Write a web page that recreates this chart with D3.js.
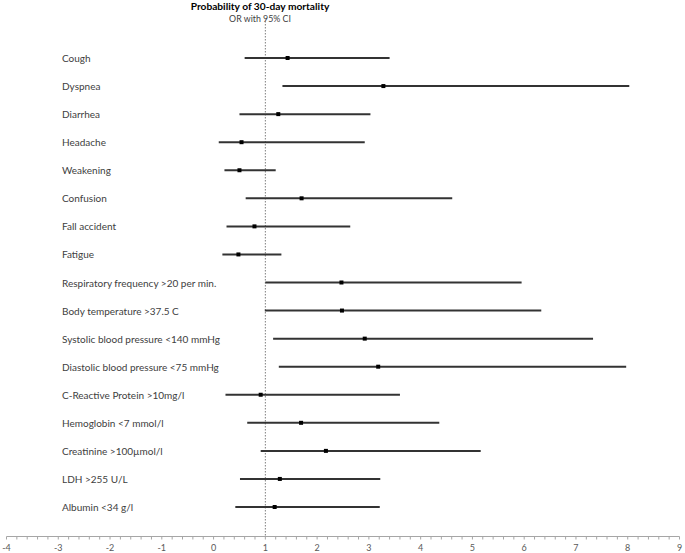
<!DOCTYPE html>
<html>
<head>
<meta charset="utf-8">
<script src="https://cdn.jsdelivr.net/npm/d3@7"></script>
<style>
body { margin: 0; background: #fff; }
text { font-family: Lato, "Open Sans", sans-serif; }
</style>
</head>
<body>
<div id="chart"></div>
<script>
var categories = ["Cough", "Dyspnea", "Diarrhea", "Headache", "Weakening", "Confusion",
	"Fall accident", "Fatigue", "Respiratory frequency >20 per min.", "Body temperature >37.5 C",
	"Systolic blood pressure <140 mmHg", "Diastolic blood pressure <75 mmHg",
	"C-Reactive Protein >10mg/l", "Hemoglobin <7 mmol/l", "Creatinine >100\u00b5mol/l",
	"LDH >255 U/L", "Albumin <34 g/l"];
var oddsRatio = [1.43, 3.28, 1.25, 0.54, 0.50, 1.70, 0.79, 0.48, 2.47, 2.48, 2.92, 3.18, 0.91, 1.69, 2.17, 1.28, 1.18];
var ciLow = [0.60, 1.33, 0.50, 0.10, 0.21, 0.62, 0.25, 0.17, 1.00, 0.99, 1.15, 1.26, 0.23, 0.65, 0.91, 0.51, 0.42];
var ciHigh = [3.40, 8.03, 3.03, 2.92, 1.20, 4.61, 2.64, 1.31, 5.95, 6.33, 7.33, 7.97, 3.60, 4.36, 5.16, 3.22, 3.21];
var tickValues = [-4, -3, -2, -1, 0, 1, 2, 3, 4, 5, 6, 7, 8, 9];
var refLine = 1;

var w = 685,
	h = 553;

var svg = d3.select("#chart").append("svg").attr("width", w).attr("height", h);

var x = d3.scaleLinear().domain([-4, 9]).range([6.5, 679.5]);
var y = d3.scalePoint().domain(categories).range([58, 507]);
var axisY = 536.5;

// title
svg.append("text").attr("x", 260).attr("y", 10).attr("text-anchor", "middle")
	.attr("font-size", 10.2).attr("font-weight", "bold").attr("fill", "#000").text("Probability  of 30-day mortality");
svg.append("text").attr("x", 260).attr("y", 22).attr("text-anchor", "middle")
	.attr("font-size", 8.8).attr("fill", "#404040").text("OR with 95% CI");

// reference line at OR = 1
svg.append("line").attr("x1", x(refLine)).attr("x2", x(refLine)).attr("y1", 18).attr("y2", axisY)
	.attr("stroke", "#7f7f7f").attr("stroke-width", 1).attr("stroke-dasharray", "1.5,1.5");

// axis
var minorTicks = d3.range(-4, 9.0001, 0.2);
var axis = svg.append("g").attr("transform", "translate(0," + axisY + ")");
axis.append("line").attr("x1", x(-4)).attr("x2", x(9)).attr("stroke", "#a6a6a6");
axis.selectAll(".minor").data(minorTicks).enter().append("line").classed("minor", true)
	.attr("x1", function(d) { return x(d); }).attr("x2", function(d) { return x(d); })
	.attr("y1", 0).attr("y2", 3).attr("stroke", "#a6a6a6");
axis.selectAll(".lbl").data(tickValues).enter().append("text").classed("lbl", true)
	.attr("x", function(d) { return x(d); }).attr("y", 14).attr("text-anchor", "middle")
	.attr("font-size", 9).attr("fill", "#595959").text(function(d) { return d; });

// rows
var rows = svg.selectAll(".row").data(categories).enter().append("g").classed("row", true)
	.attr("transform", function(d) { return "translate(0," + y(d) + ")"; });

rows.append("text").attr("x", 62).attr("y", 4).attr("font-size", 10).attr("fill", "#404040")
	.text(function(d) { return d; });

rows.append("line")
	.attr("x1", function(d, i) { return x(ciLow[i]); })
	.attr("x2", function(d, i) { return x(ciHigh[i]); })
	.attr("stroke", "#333").attr("stroke-width", 2);

rows.append("rect")
	.attr("x", function(d, i) { return x(oddsRatio[i]) - 2; })
	.attr("y", -2).attr("width", 4).attr("height", 4).attr("fill", "#000");
</script>
</body>
</html>
